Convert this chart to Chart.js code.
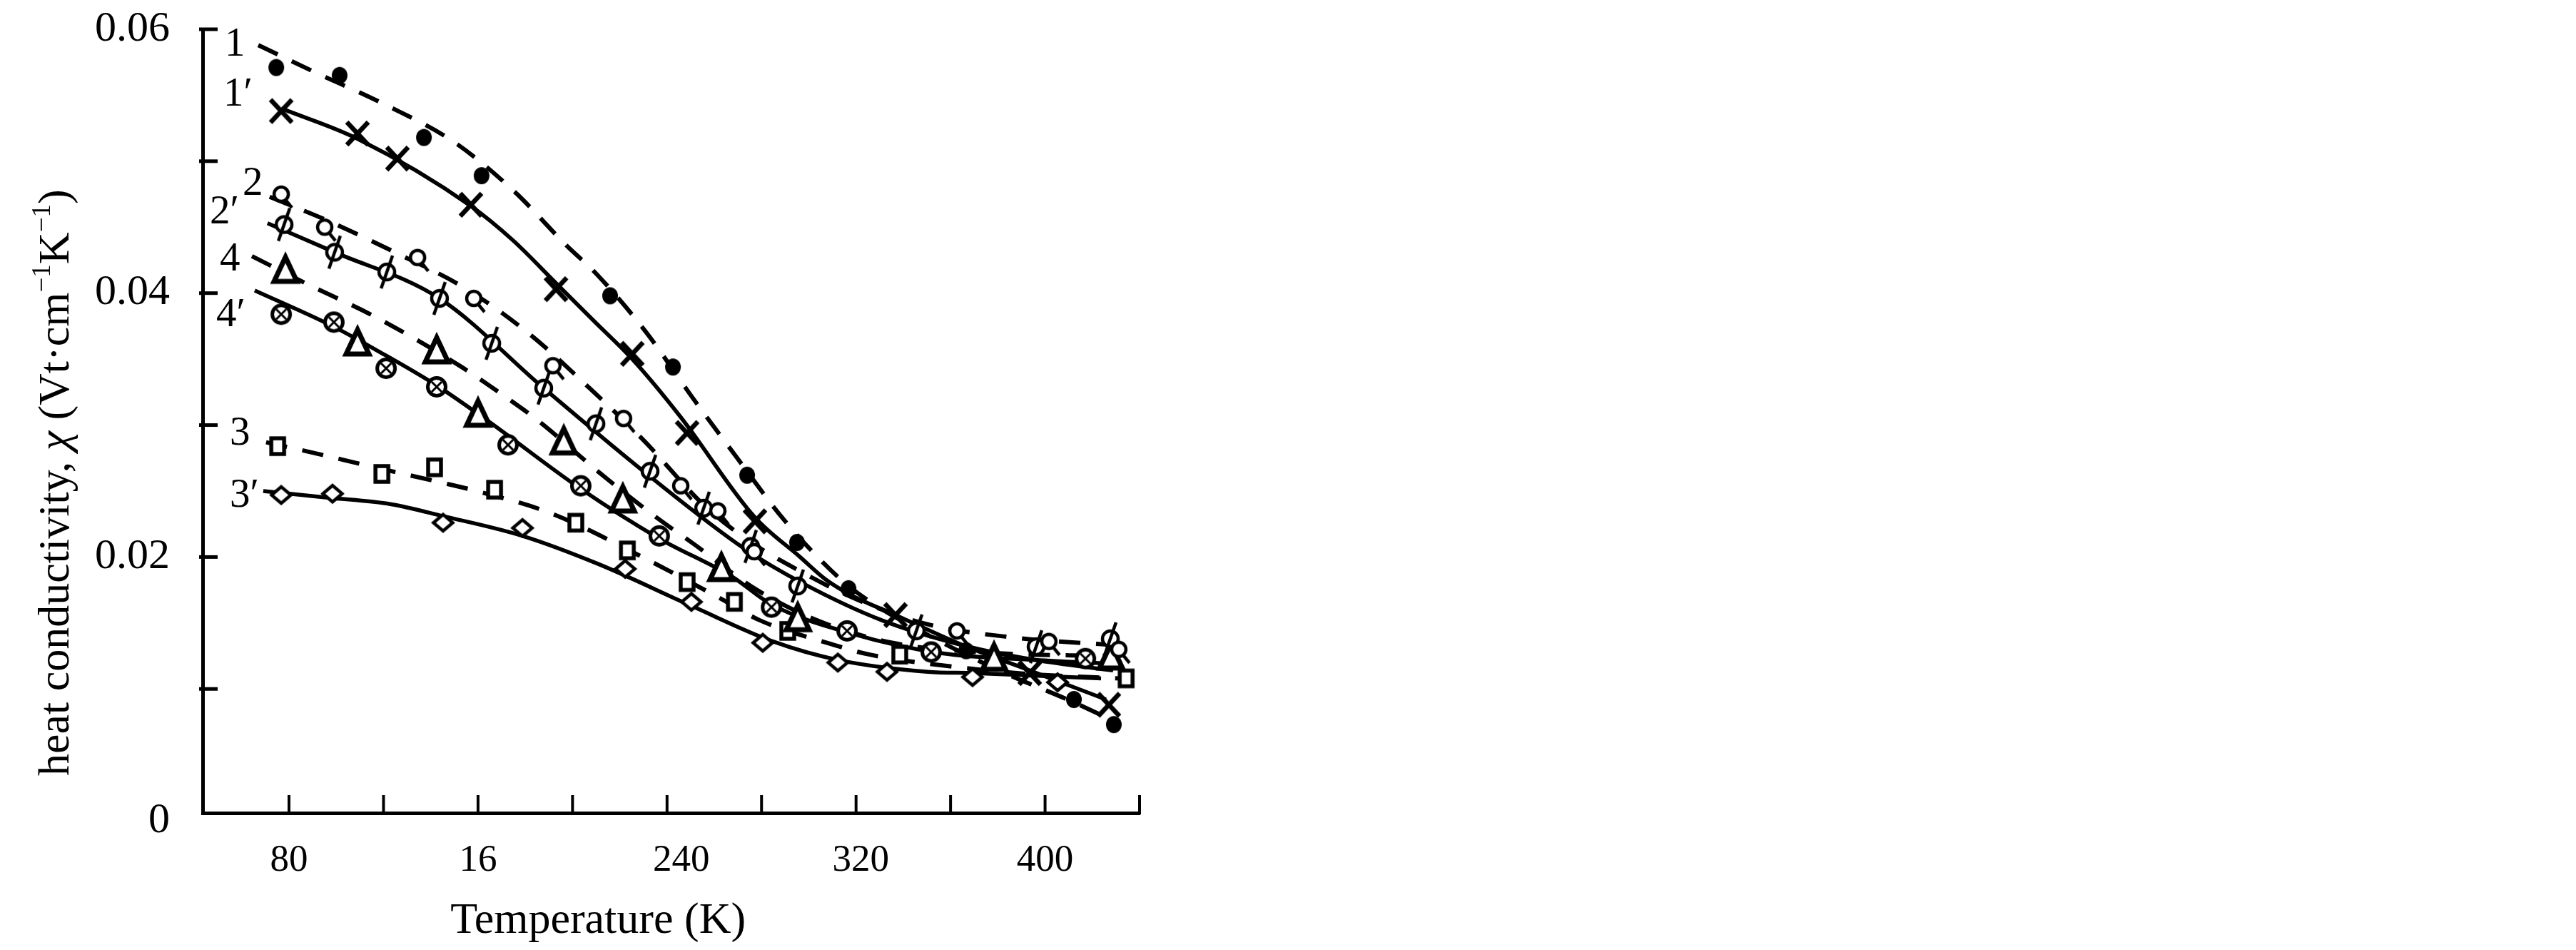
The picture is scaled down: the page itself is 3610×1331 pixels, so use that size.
<!DOCTYPE html>
<html><head><meta charset="utf-8">
<script src="https://cdn.jsdelivr.net/npm/chart.js@4.4.1/dist/chart.umd.min.js"></script>
<style>html,body{margin:0;padding:0;background:#fff;overflow:hidden}canvas{display:block}</style>
</head><body>
<canvas id="c" width="3610" height="1331"></canvas>
<script>
// ---------- DATA ----------
// axis ticks and tick labels
const xTickValues = [80, 120, 160, 200, 240, 280, 320, 360, 400, 440];
const xLabelText  = ['80', '16', '240', '320', '400'];
const xLabelAt    = [80, 160, 246, 322, 400];
const yTickValues = [0, 0.01, 0.02, 0.03, 0.04, 0.05, 0.06];
const yLabelText  = ['0', '0.02', '0.04', '0.06'];
const yLabelAt    = [0, 0.02, 0.04, 0.06];

// curve 1 (dashed, filled circles)
const s1T = [74.6, 101.4, 137.1, 161.5, 215.9, 242.5, 273.9, 295.0, 316.8, 366.6, 412.2, 429.1];
const s1K = [0.0571, 0.0565, 0.0518, 0.0489, 0.0398, 0.0344, 0.0262, 0.0211, 0.0176, 0.0129, 0.0092, 0.0073];
const c1T = [67.0, 90.3, 120.5, 149.5, 175.4, 197.5, 209.9, 231.3, 250.3, 269.7, 289.6, 312.3, 325.2, 350.3, 380.5, 410.7, 428.8];
const c1K = [0.0588, 0.0568, 0.0543, 0.0515, 0.0477, 0.0436, 0.0415, 0.0370, 0.0322, 0.0275, 0.0228, 0.0185, 0.0167, 0.0141, 0.0114, 0.0091, 0.0076];

// curve 1' (solid, crosses)
const s1pT = [76.7, 109.0, 125.9, 157.0, 193.0, 225.3, 248.5, 277.2, 336.7, 393.5, 427.0];
const s1pK = [0.0538, 0.0521, 0.0502, 0.0467, 0.0403, 0.0354, 0.0294, 0.0227, 0.0156, 0.0112, 0.0088];
const c1pT = [76.7, 109.0, 157.0, 174.8, 193.3, 209.0, 225.3, 245.8, 277.2, 296.3, 307.1, 318.0, 336.7, 365.4, 393.5, 425.8];
const c1pK = [0.0540, 0.0517, 0.0466, 0.0440, 0.0407, 0.0379, 0.0350, 0.0306, 0.0230, 0.0200, 0.0183, 0.0171, 0.0156, 0.0133, 0.0114, 0.0092];

// curve 2 (dashed, circle with tail)
const s2T = [76.7, 95.1, 134.4, 158.2, 191.7, 221.6, 245.8, 261.5, 276.9, 362.7, 401.6, 431.2];
const s2K = [0.0475, 0.0450, 0.0427, 0.0396, 0.0345, 0.0305, 0.0254, 0.0235, 0.0204, 0.0144, 0.0136, 0.0130];
const c2T = [71.8, 96.3, 125.9, 154.3, 181.8, 207.2, 229.8, 255.8, 274.8, 290.5, 320.1, 350.3, 386.6, 431.2];
const c2K = [0.0473, 0.0455, 0.0430, 0.0404, 0.0369, 0.0328, 0.0289, 0.0239, 0.0212, 0.0195, 0.0168, 0.0149, 0.0139, 0.0133];

// curve 2' (solid, slashed circles)
const s2pT = [77.9, 99.3, 121.4, 143.7, 165.8, 187.8, 209.9, 232.8, 255.5, 275.4, 295.3, 345.5, 396.2, 427.6];
const s2pK = [0.0452, 0.0431, 0.0416, 0.0396, 0.0362, 0.0328, 0.0301, 0.0265, 0.0237, 0.0208, 0.0178, 0.0144, 0.0132, 0.0138];
const c2pT = [70.9, 99.3, 143.7, 187.8, 232.8, 273.0, 297.5, 331.0, 365.4, 395.6, 428.8];
const c2pK = [0.0453, 0.0431, 0.0396, 0.0328, 0.0261, 0.0206, 0.0180, 0.0152, 0.0133, 0.0122, 0.0114];

// curve 4 (dashed, triangles)
const s4T = [78.5, 109.0, 142.5, 160.0, 196.3, 221.3, 263.0, 295.3, 378.4, 427.9];
const s4K = [0.0417, 0.0362, 0.0356, 0.0308, 0.0287, 0.0243, 0.0191, 0.0153, 0.0123, 0.0124];
const c4T = [64.3, 87.6, 116.5, 152.2, 172.7, 185.7, 212.0, 235.5, 251.2, 278.1, 305.0, 335.2, 380.5, 428.8];
const c4K = [0.0428, 0.0407, 0.0382, 0.0345, 0.0320, 0.0303, 0.0263, 0.0230, 0.0210, 0.0175, 0.0151, 0.0135, 0.0127, 0.0125];

// curve 4' (solid, crossed circles)
const s4pT = [76.7, 99.0, 121.1, 142.5, 172.7, 203.5, 236.7, 284.2, 316.2, 351.8, 417.1];
const s4pK = [0.0384, 0.0378, 0.0343, 0.0329, 0.0285, 0.0254, 0.0216, 0.0162, 0.0144, 0.0128, 0.0123];
const c4pT = [65.5, 98.4, 117.8, 142.5, 164.3, 203.2, 236.7, 267.6, 284.2, 318.0, 356.3, 395.6, 428.8];
const c4pK = [0.0402, 0.0375, 0.0356, 0.0330, 0.0303, 0.0252, 0.0214, 0.0185, 0.0164, 0.0142, 0.0127, 0.0122, 0.0119];

// curve 3 (dashed, squares)
const s3T = [75.2, 119.3, 141.6, 167.0, 201.4, 223.2, 248.5, 268.5, 291.1, 338.5, 434.3];
const s3K = [0.0284, 0.0263, 0.0268, 0.0251, 0.0226, 0.0205, 0.0181, 0.0166, 0.0144, 0.0126, 0.0108];
const c3T = [70.3, 95.1, 111.4, 143.1, 159.4, 191.1, 229.5, 264.2, 279.3, 309.5, 325.8, 365.4, 395.6, 431.8];
const c3K = [0.0287, 0.0277, 0.0270, 0.0257, 0.0250, 0.0233, 0.0200, 0.0167, 0.0152, 0.0134, 0.0126, 0.0116, 0.0111, 0.0108];

// curve 3' (solid, diamonds)
const s3pT = [76.7, 98.4, 145.2, 178.8, 222.3, 250.3, 280.5, 312.3, 333.1, 369.3, 405.3];
const s3pK = [0.0247, 0.0248, 0.0226, 0.0222, 0.0191, 0.0166, 0.0135, 0.0120, 0.0113, 0.0109, 0.0105];
const c3pT = [69.1, 96.3, 123.2, 145.2, 178.8, 210.5, 250.3, 284.8, 312.3, 350.3, 369.6, 423.7];
const c3pK = [0.0250, 0.0245, 0.0240, 0.0231, 0.0216, 0.0195, 0.0163, 0.0136, 0.0122, 0.0113, 0.0112, 0.0108];

// curve labels (left edge temperature, centre value)
const curveNames = ['1', '1\u2032', '2', '2\u2032', '4', '4\u2032', '3', '3\u2032'];
const curveNameT = [52.8, 52.2, 60.4, 46.5, 50.7, 49.2, 54.9, 54.9];
const curveNameK = [0.0588, 0.0550, 0.04826, 0.0461, 0.04253, 0.03831, 0.02933, 0.02462];

const xTitle = 'Temperature (K)';
const yTitleParts = [['heat conductivity, ', 'n'], ['\u03C7', 'i'], [' (Vt\u00B7cm', 'n'], ['\u22121', 's'], ['K', 'n'], ['\u22121', 's'], [')', 'n']];

// ---------- RENDER ----------
const FONT = '"Liberation Serif", "Times New Roman", serif';
Chart.defaults.font.family = FONT;
Chart.defaults.color = '#000';

const pts = (T, K) => T.map((t, i) => ({ x: t, y: K[i] }));

function glyph(w, h, draw) {
  const c = document.createElement('canvas');
  c.width = w; c.height = h;
  const g = c.getContext('2d');
  g.translate(w / 2, h / 2);
  g.strokeStyle = '#000'; g.fillStyle = '#000';
  draw(g);
  return c;
}
const gDot = glyph(30, 32, g => { g.beginPath(); g.ellipse(0, 0, 11, 12, 0, 0, Math.PI * 2); g.fill(); });
const gCross = glyph(46, 46, g => { g.lineWidth = 6.5; g.beginPath(); g.moveTo(-15, -16); g.lineTo(15, 16); g.moveTo(15, -16); g.lineTo(-15, 16); g.stroke(); });
const gTail = glyph(56, 56, g => { g.lineWidth = 4.5; g.beginPath(); g.arc(0, 0, 10, 0, Math.PI * 2); g.fillStyle = '#fff'; g.fill(); g.stroke(); g.beginPath(); g.moveTo(6, 8); g.lineTo(15, 19); g.stroke(); });
const gSlash = glyph(44, 60, g => { g.lineWidth = 4.5; g.beginPath(); g.arc(0, 0, 11, 0, Math.PI * 2); g.fillStyle = '#fff'; g.fill(); g.stroke(); g.beginPath(); g.moveTo(-8, 23); g.lineTo(8, -23); g.stroke(); });
const gTri = glyph(56, 64, g => { g.lineWidth = 7; g.lineJoin = 'miter'; g.beginPath(); g.moveTo(0, -19); g.lineTo(16, 15); g.lineTo(-16, 15); g.closePath(); g.fillStyle = '#fff'; g.fill(); g.stroke(); });
const gOtimes = glyph(42, 42, g => { g.lineWidth = 5; g.beginPath(); g.arc(0, 0, 12.5, 0, Math.PI * 2); g.fillStyle = '#fff'; g.fill(); g.stroke(); g.lineWidth = 3; g.beginPath(); g.moveTo(-7, -7); g.lineTo(7, 7); g.moveTo(7, -7); g.lineTo(-7, 7); g.stroke(); });
const gSquare = glyph(36, 40, g => { g.lineWidth = 5.5; g.fillStyle = '#fff'; g.fillRect(-9, -11, 18, 22); g.strokeRect(-9, -11, 18, 22); });
const gDiamond = glyph(40, 40, g => { g.lineWidth = 4.5; g.beginPath(); g.moveTo(0, -11.5); g.lineTo(13.5, 0); g.lineTo(0, 11.5); g.lineTo(-13.5, 0); g.closePath(); g.fillStyle = '#fff'; g.fill(); g.stroke(); });

const lineDs = (T, K, dashed) => ({
  type: 'line', data: pts(T, K), borderColor: '#000', borderWidth: dashed ? 6 : 5.5,
  borderDash: dashed ? [30, 22] : [], pointRadius: 0, cubicInterpolationMode: 'monotone',
  fill: false, order: 2
});
const markDs = (T, K, st) => ({
  type: 'line', data: pts(T, K), showLine: false, pointStyle: st, pointRadius: 10, order: 1
});

const tickPlugin = {
  id: 'inwardTicks',
  afterDraw(chart) {
    const { ctx, chartArea } = chart;
    const xs = chart.scales.x, ys = chart.scales.y;
    ctx.save();
    ctx.strokeStyle = '#000';
    ctx.lineWidth = 5;
    ys.ticks.forEach(t => {
      if (t.value <= 0) return;
      const p = ys.getPixelForValue(t.value);
      ctx.beginPath(); ctx.moveTo(chartArea.left - 5, p); ctx.lineTo(chartArea.left + 21, p); ctx.stroke();
    });
    ctx.lineWidth = 4;
    xs.ticks.forEach(t => {
      const p = xs.getPixelForValue(t.value);
      ctx.beginPath(); ctx.moveTo(p, chartArea.bottom + 2); ctx.lineTo(p, chartArea.bottom - 25); ctx.stroke();
    });
    // tick labels
    ctx.fillStyle = '#000';
    ctx.textBaseline = 'middle';
    ctx.font = '60px ' + FONT;
    ctx.textAlign = 'right';
    yLabelAt.forEach((v, i) => ctx.fillText(yLabelText[i], chartArea.left - 46, ys.getPixelForValue(v)));
    ctx.font = '53px ' + FONT;
    ctx.textAlign = 'center';
    xLabelAt.forEach((v, i) => ctx.fillText(xLabelText[i], xs.getPixelForValue(v), chartArea.bottom + 67));
    ctx.restore();
  }
};

const textPlugin = {
  id: 'texts',
  afterDraw(chart) {
    const { ctx, chartArea } = chart;
    const xs = chart.scales.x, ys = chart.scales.y;
    ctx.save();
    ctx.fillStyle = '#000';
    // curve labels
    ctx.font = '57px ' + FONT;
    ctx.textAlign = 'left'; ctx.textBaseline = 'middle';
    curveNames.forEach((n, i) => {
      ctx.fillText(n, xs.getPixelForValue(curveNameT[i]), ys.getPixelForValue(curveNameK[i]));
    });
    // x title
    ctx.font = '62px ' + FONT;
    ctx.textAlign = 'center'; ctx.textBaseline = 'alphabetic';
    ctx.fillText(xTitle, xs.getPixelForValue(210.8), chartArea.bottom + 168);
    // y title (rotated)
    ctx.translate(chartArea.left - 188, chartArea.bottom - 52);
    ctx.rotate(-Math.PI / 2);
    ctx.textAlign = 'left';
    let x = 0;
    yTitleParts.forEach(([t, k]) => {
      const size = k === 's' ? 37 : 62;
      ctx.font = (k === 'i' ? 'italic ' : '') + size + 'px ' + FONT;
      ctx.fillText(t, x, k === 's' ? -26 : 0);
      x += ctx.measureText(t).width;
    });
    ctx.restore();
  }
};

new Chart(document.getElementById('c'), {
  type: 'line',
  data: {
    datasets: [
      markDs(s1T, s1K, gDot), lineDs(c1T, c1K, true),
      markDs(s1pT, s1pK, gCross), lineDs(c1pT, c1pK, false),
      markDs(s2T, s2K, gTail), lineDs(c2T, c2K, true),
      markDs(s2pT, s2pK, gSlash), lineDs(c2pT, c2pK, false),
      markDs(s4T, s4K, gTri), lineDs(c4T, c4K, true),
      markDs(s4pT, s4pK, gOtimes), lineDs(c4pT, c4pK, false),
      markDs(s3T, s3K, gSquare), lineDs(c3T, c3K, true),
      markDs(s3pT, s3pK, gDiamond), lineDs(c3pT, c3pK, false)
    ]
  },
  options: {
    responsive: false, animation: false, devicePixelRatio: 1,
    layout: { padding: { left: 0, top: 41, right: 2013, bottom: 0 } },
    plugins: { legend: { display: false }, tooltip: { enabled: false } },
    scales: {
      x: {
        type: 'linear', min: 43.45, max: 440,
        grid: { display: false, drawTicks: false },
        border: { display: true, color: '#000', width: 5 },
        afterBuildTicks: s => { s.ticks = xTickValues.map(v => ({ value: v })); },
        ticks: { display: false },
        afterFit: s => { s.height = 192; }
      },
      y: {
        type: 'linear', min: 0.0006, max: 0.06,
        grid: { display: false, drawTicks: false },
        border: { display: true, color: '#000', width: 5 },
        afterBuildTicks: s => { s.ticks = yTickValues.map(v => ({ value: v })); },
        ticks: { display: false },
        afterFit: s => { s.width = 284; }
      }
    }
  },
  plugins: [tickPlugin, textPlugin]
});
</script>
</body></html>
